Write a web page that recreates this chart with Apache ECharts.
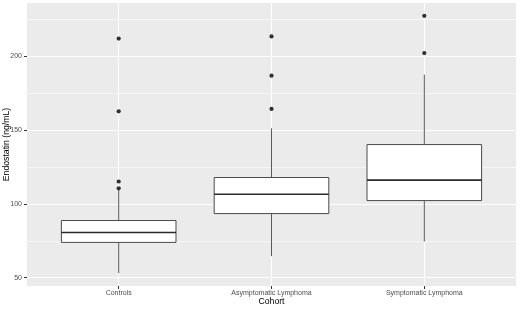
<!DOCTYPE html>
<html>
<head>
<meta charset="utf-8">
<script src="https://cdn.jsdelivr.net/npm/echarts@6/dist/echarts.min.js"></script>
<style>html,body{margin:0;padding:0;background:#fff}#c{width:520px;height:324px}</style>
</head>
<body>
<div id="c"></div>
<script>
const categories = ['Controls', 'Asymptomatic Lymphoma', 'Symptomatic Lymphoma'];
// [lower whisker, Q1, median, Q3, upper whisker]
const controlsBox = [53.1, 73.9, 80.6, 88.7, 109.5];
const asymptomaticBox = [64.6, 93.4, 106.5, 117.8, 151.1];
const symptomaticBox = [74.5, 102.2, 116.0, 140.1, 187.4];
const controlsOutliers = [110.5, 115.1, 162.6, 211.8];
const asymptomaticOutliers = [164.2, 186.7, 213.3];
const symptomaticOutliers = [202.0, 227.2];
const yTicks = [50, 100, 150, 200];
const yMinorTicks = [75, 125, 175, 225];

const boxes = [controlsBox, asymptomaticBox, symptomaticBox];
const outs = [controlsOutliers, asymptomaticOutliers, symptomaticOutliers];
const boxData = boxes.map((b, i) => [i + 1].concat(b));
const outData = [];
outs.forEach((o, i) => o.forEach(v => outData.push([i + 1, v])));
const allVals = boxes.flat().concat(outs.flat());
const lo = Math.min(...allVals), hi = Math.max(...allVals);
const pad = (hi - lo) * 0.05;
const xTicks = categories.map((c, i) => i + 1);

const chart = echarts.init(document.getElementById('c'), null, {renderer: 'canvas'});
const font = 'Liberation Sans, Arial, sans-serif';
chart.setOption({
  animation: false,
  grid: {left: 27, right: 4, top: 3, bottom: 38, show: true, backgroundColor: '#EBEBEB', borderWidth: 0, containLabel: false, outerBoundsMode: 'none'},
  xAxis: {
    type: 'value', min: 0.4, max: 3.6,
    name: 'Cohort', nameLocation: 'middle', nameGap: 11, nameMoveOverlap: false,
    nameTextStyle: {color: '#000', fontSize: 8.7, fontFamily: font},
    axisLine: {show: false},
    axisTick: {show: true, customValues: xTicks, length: 3, lineStyle: {color: '#333', width: 1}},
    axisLabel: {customValues: xTicks, formatter: v => categories[Math.round(v) - 1], color: '#4D4D4D', fontSize: 7, fontFamily: font, margin: 4},
    splitLine: {show: true, lineStyle: {color: '#fff', width: 1.1}}
  },
  yAxis: [{
    type: 'value', min: lo - pad, max: hi + pad,
    name: 'Endostatin (ng/mL)', nameLocation: 'middle', nameGap: 16, nameMoveOverlap: false,
    nameTextStyle: {color: '#000', fontSize: 8.7, fontFamily: font},
    axisLine: {show: false},
    axisTick: {show: true, customValues: yTicks, length: 3, lineStyle: {color: '#333', width: 1}},
    axisLabel: {customValues: yTicks, color: '#4D4D4D', fontSize: 7, fontFamily: font, margin: 5},
    splitLine: {show: true, lineStyle: {color: '#fff', width: 1.1}}
  }, {
    type: 'value', min: lo - pad, max: hi + pad, position: 'left',
    axisLine: {show: false},
    axisTick: {show: false, customValues: yMinorTicks},
    axisLabel: {show: false, customValues: yMinorTicks},
    splitLine: {show: true, lineStyle: {color: '#FAFAFA', width: 0.7}}
  }],
  series: [{
    type: 'custom',
    data: boxData,
    encode: {x: 0, y: [1, 2, 3, 4, 5]},
    renderItem: function (params, api) {
      const x = api.value(0), hw = 0.375;
      const pMin = api.coord([x, api.value(1)]);
      const pQ1 = api.coord([x, api.value(2)]);
      const pMed = api.coord([x, api.value(3)]);
      const pQ3 = api.coord([x, api.value(4)]);
      const pMax = api.coord([x, api.value(5)]);
      const l = api.coord([x - hw, api.value(3)])[0];
      const r = api.coord([x + hw, api.value(3)])[0];
      const wc = '#5a5a5a';
      return {type: 'group', children: [
        {type: 'line', shape: {x1: pMin[0], y1: pMin[1], x2: pQ1[0], y2: pQ1[1]}, style: {stroke: wc, lineWidth: 1}},
        {type: 'line', shape: {x1: pQ3[0], y1: pQ3[1], x2: pMax[0], y2: pMax[1]}, style: {stroke: wc, lineWidth: 1}},
        {type: 'rect', shape: {x: l, y: pQ3[1], width: r - l, height: pQ1[1] - pQ3[1]}, style: {fill: '#fff', stroke: '#4a4a4a', lineWidth: 1}},
        {type: 'line', shape: {x1: l, y1: pMed[1], x2: r, y2: pMed[1]}, style: {stroke: '#2a2a2a', lineWidth: 1.7}}
      ]};
    }
  }, {
    type: 'scatter',
    data: outData,
    symbolSize: 4.2,
    itemStyle: {color: '#000'}
  }]
});
</script>
</body>
</html>
